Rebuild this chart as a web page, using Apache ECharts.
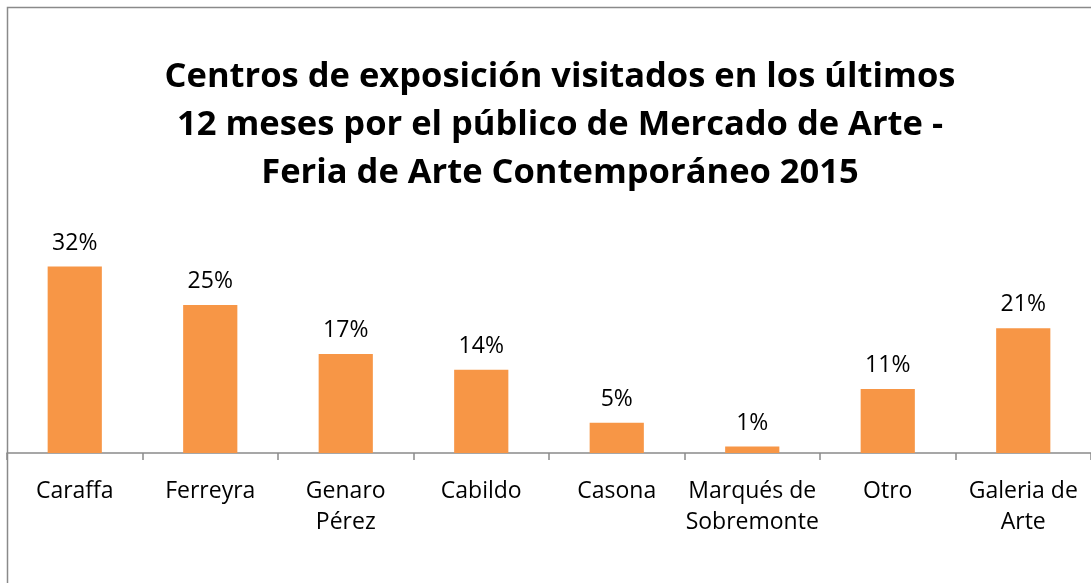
<!DOCTYPE html>
<html>
<head>
<meta charset="utf-8">
<script src="https://cdn.jsdelivr.net/npm/echarts@6/dist/echarts.min.js"></script>
<style>
html,body{margin:0;padding:0;background:#fff;}
#chart{width:1091px;height:583px;}
</style>
</head>
<body>
<div id="chart"></div>
<script>
var myChart = echarts.init(document.getElementById('chart'));

// categorias (eje x)
var categorias = ['Caraffa', 'Ferreyra', 'Genaro\nPérez', 'Cabildo', 'Casona', 'Marqués de\nSobremonte', 'Otro', 'Galeria de\nArte'];
// porcentajes
var valores = [32, 25.4, 17, 14.3, 5.2, 1.1, 11, 21.4];

var titulo = 'Centros de exposición visitados en los últimos\n12 meses por el público de Mercado de Arte -\nFeria de Arte Contemporáneo 2015';

var fuente = 'Open Sans';
var gris = '#8a8a8a';

var option = {
    animation: false,
    backgroundColor: '#fff',
    title: {
        text: titulo,
        left: 555,
        textAlign: 'center',
        top: 48,
        textStyle: {
            fontFamily: fuente,
            fontWeight: 'bold',
            fontSize: 34.5,
            lineHeight: 48,
            color: '#000'
        }
    },
    graphic: [{
        type: 'rect',
        shape: {x: 7.5, y: 7.5, width: 1200, height: 700},
        style: {fill: 'none', stroke: gris, lineWidth: 1.5},
        silent: true
    }],
    grid: {left: 7, right: -8, top: 220, bottom: 130},
    xAxis: {
        type: 'category',
        data: categorias,
        axisLine: {lineStyle: {color: gris, width: 1.5}},
        axisTick: {show: true, length: 7, lineStyle: {color: gris, width: 1.5}},
        axisLabel: {
            interval: 0,
            margin: 23,
            fontFamily: fuente,
            fontSize: 23,
            lineHeight: 31,
            color: '#000'
        }
    },
    yAxis: {
        type: 'value',
        min: 0,
        max: 40,
        show: false
    },
    series: [{
        type: 'bar',
        data: valores,
        barWidth: '40%',
        itemStyle: {color: '#F79646'},
        label: {
            show: true,
            position: 'top',
            distance: 12,
            fontFamily: fuente,
            fontSize: 23,
            color: '#000',
            formatter: function (p) {
                return Math.round(p.value) + '%';
            }
        }
    }]
};
myChart.setOption(option);
</script>
</body>
</html>
